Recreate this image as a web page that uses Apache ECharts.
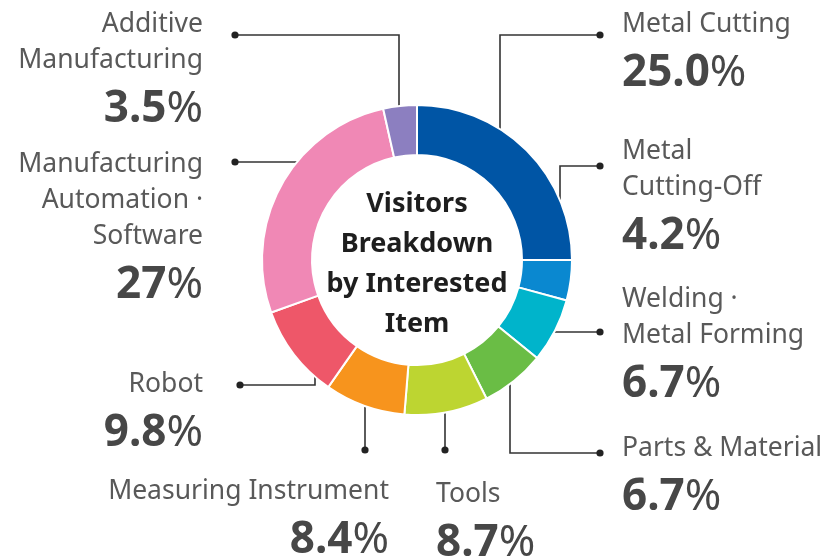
<!DOCTYPE html>
<html>
<head>
<meta charset="utf-8">
<script src="https://cdn.jsdelivr.net/npm/echarts@6/dist/echarts.min.js"></script>
<style>
html,body{margin:0;padding:0;background:#fff;}
#c{width:837px;height:557px;}
</style>
</head>
<body>
<div id="c"></div>
<script>
// ---- data ----
const categories = [
  'Metal Cutting',
  'Metal\nCutting-Off',
  'Welding ·\nMetal Forming',
  'Parts & Material',
  'Tools',
  'Measuring Instrument',
  'Robot',
  'Manufacturing\nAutomation ·\nSoftware',
  'Additive\nManufacturing'
];
const values = [25.0, 4.2, 6.7, 6.7, 8.7, 8.4, 9.8, 27, 3.5];
const valueLabels = ['25.0', '4.2', '6.7', '6.7', '8.7', '8.4', '9.8', '27', '3.5'];
const colors = ['#0055a5', '#0a88d0', '#00b4cb', '#6abd45', '#bdd531', '#f7941d', '#ee5769', '#f088b5', '#8c7fc0'];
const centerTitle = 'Visitors\nBreakdown\nby Interested\nItem';

// ---- layout (label anchors and leader lines) ----
const layout = [
  { pts: [[500,168],[500,35],[600,35]],   x: 622, y: 6.5,   align: 'left'  },
  { pts: [[560,284],[560,166],[600,166]], x: 622, y: 133.5, align: 'left'  },
  { pts: [[538,332],[569,332],[600,332]], x: 622, y: 281.5, align: 'left'  },
  { pts: [[510,367],[510,453],[600,453]], x: 622, y: 430.5, align: 'left'  },
  { pts: [[445,397],[445,424],[445,450]], x: 436, y: 476.5, align: 'left'  },
  { pts: [[365,388],[365,420],[365,450]], x: 389, y: 473.5, align: 'right' },
  { pts: [[315,345],[315,385],[240,385]], x: 203, y: 366.5, align: 'right' },
  { pts: [[305,200],[305,162],[235,162]], x: 203, y: 146.5, align: 'right' },
  { pts: [[399,125],[399,35],[235,35]],   x: 203, y: 6.5,   align: 'right' }
];

const chart = echarts.init(document.getElementById('c'), null, { renderer: 'canvas' });
const FONT = '"Noto Sans"';

const seriesData = categories.map((c, i) => ({
  name: c,
  value: values[i],
  itemStyle: { color: colors[i] },
  label: { align: layout[i].align }
}));

chart.setOption({
  backgroundColor: '#fff',
  animation: false,
  title: {
    text: centerTitle,
    left: 417,
    top: 184,
    padding: 0,
    textAlign: 'center',
    textStyle: {
      fontFamily: FONT,
      fontWeight: 'bold',
      fontSize: 27,
      lineHeight: 40,
      color: '#1e1e1e'
    }
  },
  series: [{
    type: 'pie',
    center: [417, 260],
    radius: [105, 155],
    startAngle: 90,
    clockwise: true,
    avoidLabelOverlap: false,
    minShowLabelAngle: 0,
    itemStyle: { borderColor: '#fff', borderWidth: 2 },
    label: {
      show: true,
      position: 'outside',
      width: 320,
      overflow: 'none',
      formatter: function (p) {
        const i = p.dataIndex;
        const lines = categories[i].split('\n').map(s => '{n|' + s + '}').join('\n');
        return lines + '\n{v|' + valueLabels[i] + '}{p|%}';
      },
      rich: {
        n: { fontFamily: FONT, fontSize: 26.5, lineHeight: 36, color: '#595959' },
        v: { fontFamily: FONT, fontSize: 44, fontWeight: 'bold', lineHeight: 62, color: '#474747' },
        p: { fontFamily: FONT, fontSize: 44, fontWeight: 'normal', lineHeight: 62, color: '#474747' }
      }
    },
    labelLine: {
      show: true,
      smooth: false,
      length: 10,
      length2: 10,
      lineStyle: { color: '#333', width: 1.6 }
    },
    labelLayout: function (params) {
      const L = layout[params.dataIndex];
      return {
        x: L.x,
        y: L.y,
        align: L.align,
        verticalAlign: 'top',
        labelLinePoints: L.pts
      };
    },
    data: seriesData
  }],
  graphic: layout.map(L => ({
    type: 'circle',
    shape: { cx: L.pts[2][0], cy: L.pts[2][1], r: 3.6 },
    style: { fill: '#222' },
    z: 100
  }))
});
</script>
</body>
</html>
